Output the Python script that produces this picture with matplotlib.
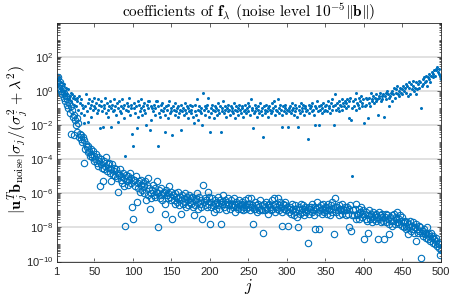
"""Coefficients of the regularized solution f_lambda, noise level 1e-5 ||b||."""

import matplotlib

matplotlib.use("Agg")
import matplotlib.pyplot as plt
import numpy as np
from matplotlib.ticker import FixedLocator, LogLocator, NullFormatter

# log10 of |u_j^T b| / sigma_j (filled dots), j = 1..500
DOT_EXP = [
    0.7, 0.6, 0.4, 0.8, 0.2, 0.5, 0.1, 0.3, -0.2, 0.4, 0.0, -0.1, 0.2, -0.4, -0.2, 0.1, -0.5, -0.3, -0.1, -0.6, -0.2, -0.4, -0.8, -0.3, -0.5,
    -0.9, -0.4, -0.6, -1.1, -0.3, -0.7, -1.3, -0.5, -0.8, -1.0, -1.9, -1.4, -0.9, -0.2, -1.2, -0.7, -1.8, -0.5, -1.0, -0.8, -1.5, -0.6, -1.1, -0.9, -0.4,
    -1.0, -0.7, -1.3, -0.5, -1.1, -0.8, -2.2, -0.9, -0.6, -1.2, -2.1, -0.8, -1.0, -0.4, -1.3, -0.7, -1.1, -1.5, -0.9, -0.6, -2.1, -1.0, -0.8, -1.2, -0.5,
    -1.1, -0.9, -1.4, -0.7, -1.0, -1.8, -0.6, -1.2, -0.9, -1.3, -0.5, -1.0, -0.8, -1.6, -3.8, -1.1, -0.7, -1.2, -0.9, -0.4, -1.4, -1.0, -0.8, -2.5, -3.2,
    -1.0, -0.7, -1.3, -0.9, -2.2, -0.6, -1.5, -0.8, -1.2, -1.0, -0.5, -1.4, -0.9, -1.1, -0.7, -1.3, -2.0, -0.8, -1.0, -0.6, -0.6, -2.3, -0.9, -1.7, -1.0,
    -1.2, -0.8, -1.4, -1.0, -0.6, -0.6, -3.2, -0.9, -1.3, -1.5, -0.8, -1.1, -0.7, -1.2, -1.0, -2.4, -1.4, -0.9, -1.1, -1.6, -0.8, -0.6, -1.3, -1.0, -1.2,
    -2.6, -0.9, -1.1, -1.4, -0.7, -1.2, -1.0, -1.5, -0.9, -1.3, -1.1, -2.3, -0.8, -1.2, -1.0, -1.4, -0.7, -1.1, -1.3, -0.9, -1.6, -1.0, -1.2, -0.8, -1.1,
    -1.3, -0.9, -1.5, -1.9, -1.2, -0.8, -1.4, -0.5, -1.1, -1.7, -0.9, -1.2, -1.0, -1.3, -2.0, -0.1, -1.1, -0.9, -1.4, -1.0, -0.8, -0.4, -1.2, -1.5, -2.4,
    -1.0, -1.3, -0.8, -1.1, -1.6, -0.9, -1.2, -1.0, -1.4, -0.7, -1.1, -1.3, -0.9, -2.4, -1.2, -1.0, -0.6, -1.3, -1.1, -0.9, -1.5, -1.0, -1.2, -0.8, -1.1,
    -1.4, -0.9, -1.2, -1.0, -1.3, -0.7, -1.1, -1.6, -0.9, -1.2, -1.0, -1.4, -0.8, -1.1, -1.3, -0.9, -1.0, -1.5, -1.2, -0.8, -1.1, -1.3, -1.0, -0.7, -1.2,
    -0.9, -1.4, -0.5, -1.1, -1.0, -2.2, -1.3, -0.8, -1.2, -1.0, -1.5, -0.9, -1.1, -1.3, -0.7, -1.2, -1.0, -1.4, -2.7, -0.9, -1.1, -1.3, -0.8, -1.2, -1.0,
    -1.5, -0.9, -1.1, -1.3, -0.7, -1.2, -1.0, -0.6, -1.4, -0.9, -1.1, -1.2, -0.5, -1.0, -1.3, -0.8, -1.1, -1.4, -2.1, -0.9, -1.2, -1.0, -0.8, -1.3, -1.1,
    -2.1, -1.0, -1.2, -0.9, -1.3, -0.7, -1.1, -1.0, -1.4, -0.8, -1.2, -1.0, -1.5, -2.1, -0.9, -1.1, -1.3, -0.7, -1.0, -1.2, -0.8, -1.4, -1.0, -0.9, -1.2,
    -1.1, -2.8, -0.8, -1.3, -1.0, -0.9, -1.2, -0.7, -1.1, -1.4, -0.9, -2.0, -1.0, -0.6, -1.2, -2.0, -0.9, -1.1, -0.8, -1.3, -1.0, -0.7, -1.2, -0.9, -1.1,
    -0.8, -1.2, -0.6, -1.0, -0.9, -1.3, -0.7, -1.1, -0.5, -0.9, -2.0, -0.8, -0.2, -1.1, -0.7, -1.0, -0.6, -1.2, -0.8, -0.9, -0.5, -1.1, -0.7, -0.9, -0.6,
    -1.0, -0.7, -0.5, -0.9, -0.6, -1.6, -0.4, -1.7, -1.0, -5.0, -0.6, -0.9, -0.5, -1.1, -0.1, -0.7, -0.8, -0.4, -1.0, -0.6, -0.3, -0.9, -0.7, -0.5, -1.9,
    -0.9, -0.4, -0.8, -0.5, -1.6, -0.7, -0.4, -0.9, -0.1, -0.5, -0.6, -0.3, -0.7, -0.4, -0.2, -0.6, -0.5, -1.4, -0.3, -0.4, -0.1, -0.6, -0.3, -0.5, -0.2,
    -1.5, -0.3, -0.1, -0.5, 0.0, -0.2, -0.4, -0.9, -0.3, -0.1, -0.6, 0.0, -0.2, 0.2, -0.4, -0.1, 0.1, 0.3, -0.2, 0.0, -0.3, 0.2, -0.1, 0.1, -0.2,
    0.3, 0.0, 0.2, 0.4, -0.1, 0.3, -0.3, 0.5, 0.2, -0.2, 0.4, 0.1, 0.3, 0.6, 0.0, 0.2, 0.5, -0.2, 0.1, 0.4, 0.6, 0.2, 0.5, -1.0, 0.3,
    0.7, 0.4, 0.8, 0.5, 0.9, 0.6, 0.3, 0.8, 1.0, 0.7, 0.5, 0.9, 1.1, 0.8, 1.0, 1.2, 0.9, 1.3, 1.2, 1.4, 1.1, 1.3, 1.0, 0.9, 0.7,
]

# log10 of |u_j^T b_noise| sigma_j / (sigma_j^2 + lambda^2) (open circles), j = 1..500
CIRCLE_EXP = [
    0.6, 0.4, 0.8, 0.2, 0.5, 0.0, 0.3, -0.2, 0.1, -0.4, -0.1, -0.6, -0.3, -0.8, -0.5, -1.0, -0.7, -1.3, -0.9, -2.5, -1.1, -1.5, -2.6, -1.4, -1.7,
    -2.0, -1.6, -2.4, -1.9, -2.7, -2.5, -2.8, -2.6, -3.0, -2.7, -4.2, -2.9, -3.4, -3.1, -3.3, -3.6, -3.2, -3.5, -3.8, -3.4, -3.7, -3.9, -3.5, -4.1, -3.8,
    -4.0, -3.7, -4.2, -3.9, -4.4, -4.1, -5.6, -4.3, -4.0, -4.5, -5.3, -4.6, -4.1, -4.4, -3.9, -4.7, -4.3, -4.5, -4.2, -4.8, -5.3, -4.6, -4.3, -4.9, -4.5,
    -4.7, -5.0, -4.6, -5.1, -4.8, -5.9, -4.9, -4.6, -5.2, -5.0, -5.4, -4.8, -5.1, -5.6, -7.9, -4.9, -5.3, -5.0, -5.5, -5.2, -4.8, -5.4, -5.1, -6.8, -7.5,
    -5.2, -5.2, -5.6, -5.0, -6.5, -5.4, -5.7, -5.3, -5.9, -5.5, -5.2, -5.8, -5.4, -6.0, -5.6, -5.3, -6.4, -5.5, -6.1, -5.1, -5.7, -6.9, -6.0, -6.3, -5.8,
    -5.5, -6.1, -5.7, -6.2, -5.9, -5.3, -8.0, -6.0, -5.8, -6.3, -6.1, -5.7, -6.4, -6.0, -5.9, -7.2, -6.6, -5.8, -6.1, -6.3, -6.0, -5.6, -6.2, -5.9, -6.4,
    -7.5, -6.1, -6.4, -6.0, -6.6, -6.2, -6.5, -6.3, -5.9, -6.7, -6.2, -7.2, -6.4, -6.1, -6.6, -6.3, -6.0, -6.5, -6.8, -6.2, -6.4, -6.7, -6.1, -6.5, -6.3,
    -6.6, -6.2, -6.8, -7.3, -6.4, -6.7, -6.3, -6.0, -6.5, -6.9, -6.2, -6.6, -6.4, -6.8, -7.5, -5.5, -6.5, -6.3, -6.7, -6.4, -6.8, -5.9, -6.6, -6.2, -7.8,
    -6.5, -6.8, -6.3, -6.7, -7.1, -6.4, -6.6, -6.9, -6.5, -6.2, -6.7, -6.9, -6.4, -7.8, -6.6, -6.5, -6.1, -6.8, -6.6, -6.4, -7.0, -6.5, -6.7, -6.3, -6.6,
    -6.9, -6.4, -6.7, -6.6, -6.8, -6.3, -6.7, -7.1, -6.5, -6.8, -6.6, -6.9, -6.4, -6.7, -6.9, -6.5, -6.6, -7.0, -6.8, -6.4, -6.7, -6.9, -6.6, -6.3, -6.8,
    -6.6, -7.0, -6.3, -6.8, -6.7, -7.8, -6.9, -6.5, -6.9, -6.7, -7.1, -6.6, -6.8, -7.0, -6.4, -6.9, -6.7, -7.0, -8.3, -6.6, -6.8, -7.0, -6.5, -6.9, -6.7,
    -7.2, -6.6, -6.8, -7.0, -6.4, -6.9, -6.7, -6.3, -7.1, -6.6, -6.8, -6.9, -6.3, -6.7, -7.0, -6.5, -6.8, -7.1, -7.9, -6.6, -6.9, -6.7, -6.5, -7.0, -6.8,
    -7.9, -6.9, -7.1, -6.8, -7.2, -6.6, -7.0, -6.9, -7.3, -6.7, -7.1, -6.9, -7.4, -8.0, -6.8, -7.0, -7.2, -6.6, -6.9, -7.1, -6.7, -7.3, -6.9, -6.8, -7.1,
    -7.0, -8.9, -6.8, -7.2, -6.9, -6.8, -7.1, -6.6, -7.0, -7.3, -6.8, -8.1, -6.9, -6.5, -7.1, -8.1, -6.8, -7.0, -6.7, -7.2, -6.9, -6.6, -7.1, -6.8, -7.0,
    -6.8, -7.2, -6.6, -7.0, -6.9, -7.3, -6.7, -7.1, -6.5, -6.9, -8.4, -6.8, -6.3, -7.1, -6.8, -7.0, -6.7, -7.3, -6.9, -7.0, -6.6, -7.2, -6.9, -7.0, -6.8,
    -7.3, -7.0, -6.8, -7.2, -6.9, -8.0, -6.7, -8.2, -7.3, -11.5, -7.0, -7.3, -6.9, -7.5, -6.6, -7.2, -7.3, -6.9, -7.5, -7.1, -6.8, -7.4, -7.2, -7.0, -8.7,
    -7.2, -7.5, -7.1, -7.6, -8.3, -7.3, -7.0, -7.5, -7.2, -7.4, -7.7, -7.1, -7.5, -7.3, -7.6, -7.2, -7.4, -8.7, -7.1, -7.5, -7.3, -7.7, -7.2, -7.4, -7.6,
    -8.7, -7.4, -7.2, -7.7, -7.3, -7.5, -7.8, -8.4, -7.4, -7.6, -7.9, -7.3, -7.6, -7.2, -7.8, -7.5, -7.4, -7.1, -7.7, -7.5, -7.8, -7.3, -7.6, -7.4, -7.9,
    -7.7, -8.0, -7.6, -7.9, -8.1, -7.7, -8.4, -7.8, -8.0, -7.6, -8.2, -7.9, -8.1, -7.7, -8.3, -8.0, -7.8, -8.8, -8.1, -8.3, -7.9, -8.2, -8.0, -9.8, -8.3,
    -8.2, -8.5, -8.1, -8.4, -8.6, -8.3, -8.0, -8.7, -8.4, -8.5, -8.8, -8.3, -8.6, -8.9, -8.5, -8.7, -9.0, -8.6, -8.8, -9.1, -8.9, -9.2, -9.0, -9.6, -9.3,
]

X_TICKS = [1, 50, 100, 150, 200, 250, 300, 350, 400, 450, 500]
Y_TICK_EXP = [-10, -8, -6, -4, -2, 0, 2]

BLUE = "#0072BD"
TEXT = "#262626"
GRID = "#d9d9d9"


def main() -> None:
    assert len(DOT_EXP) == 500 and len(CIRCLE_EXP) == 500, (len(DOT_EXP), len(CIRCLE_EXP))
    plt.rcParams["font.family"] = ["Liberation Sans", "DejaVu Sans"]
    plt.rcParams["mathtext.fontset"] = "cm"

    j = np.arange(1, len(DOT_EXP) + 1)
    dots = 10.0 ** np.asarray(DOT_EXP)
    circles = 10.0 ** np.asarray(CIRCLE_EXP)

    fig = plt.figure(figsize=(4.5, 2.97), dpi=100)
    ax = fig.add_axes([0.126, 0.1195, 0.854, 0.804])

    ax.semilogy(j, dots, "o", color=BLUE, markersize=2.2, markeredgewidth=0)
    ax.semilogy(j, circles, "o", markerfacecolor="none", markeredgecolor=BLUE,
                markersize=4.6, markeredgewidth=0.8)

    ax.set_xlim(1, 500)
    ax.set_ylim(1e-10, 1e4)
    ax.set_xticks(X_TICKS, [str(t) for t in X_TICKS])
    ax.yaxis.set_major_locator(FixedLocator([10.0 ** e for e in Y_TICK_EXP]))
    ax.set_yticklabels([rf"$\mathregular{{10^{{{e}}}}}$" for e in Y_TICK_EXP])
    ax.yaxis.set_minor_locator(LogLocator(base=10, subs=np.arange(1, 10), numticks=40))
    ax.yaxis.set_minor_formatter(NullFormatter())

    ax.grid(True, axis="y", which="major", color=GRID, linewidth=1.1)
    ax.set_axisbelow(True)
    ax.tick_params(which="both", direction="in", top=True, right=True,
                   labelsize=8, colors=TEXT, labelcolor=TEXT, width=0.5)
    ax.tick_params(which="major", length=3)
    ax.tick_params(which="minor", length=1.8)
    ax.tick_params(axis="x", pad=4)
    ax.tick_params(axis="y", pad=2.5)
    for spine in ax.spines.values():
        spine.set_color(TEXT)
        spine.set_linewidth(0.6)

    ax.set_title(r"coefficients of $\mathbf{f}_\lambda$ (noise level $10^{-5}\|\mathbf{b}\|$)",
                 fontfamily="cmr10", fontsize=11, pad=4, color="black")
    ax.set_xlabel(r"$j$", fontsize=12, color="black", labelpad=0)
    ax.set_ylabel(r"$|\mathbf{u}_j^T\mathbf{b}_{\rm noise}|\sigma_j/(\sigma_j^2+\lambda^2)$",
                  fontsize=11.5, color="black")
    ax.yaxis.set_label_coords(-0.07, 0.51)

    fig.savefig("out.png", dpi=100)
    plt.close(fig)


if __name__ == "__main__":
    main()
